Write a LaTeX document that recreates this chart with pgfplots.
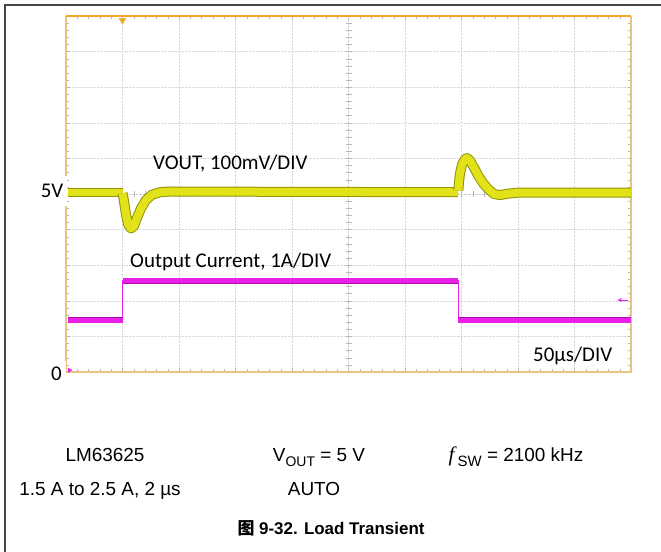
\documentclass[border=0pt]{standalone}
\usepackage{fontspec}
\setmainfont{Carlito}
\newfontfamily\arialf{Liberation Sans}
\newfontfamily\timesf{Liberation Serif}
\newfontfamily\cjk{Noto Sans CJK SC}
\usepackage{pgfplots}
\pgfplotsset{compat=1.18}
\definecolor{oliveE}{RGB}{145,145,10}
\definecolor{yel}{RGB}{226,226,24}
\definecolor{mag}{RGB}{232,32,232}
\definecolor{magd}{RGB}{175,10,175}
\definecolor{bordtop}{RGB}{245,166,45}
\definecolor{bord}{RGB}{234,195,130}
\begin{document}
\begin{tikzpicture}[x=1bp,y=1bp]
\path[use as bounding box] (0,0) rectangle (661,552);
\draw[gray!55!black, line width=1.2bp] (5,0) -- (5,547) -- (661,547);
\begin{axis}[at={(66bp,180bp)}, anchor=south west, scale only axis,
  width=565bp, height=356bp, xmin=0, xmax=500, ymin=0, ymax=10,
  axis line style={draw=none},
  xtick={0,50,...,500}, ytick={0,1,...,10},
  minor x tick num=4, minor y tick num=4,
  xticklabels={}, yticklabels={},
  grid=major, major grid style={densely dotted, gray!30},
  major tick length=3.5bp, minor tick length=3bp,
  tick style={gray!55, thin}, clip=false]
% center lines
\draw[gray!40, densely dotted] (axis cs:250,0) -- (axis cs:250,10);
\draw[gray!40, densely dotted] (axis cs:0,5) -- (axis cs:500,5);
\pgfplotsinvokeforeach{10,20,...,490}{\draw[gray!55, thin] ([yshift=-3bp]axis cs:#1,5) -- ([yshift=3bp]axis cs:#1,5);}
\pgfplotsinvokeforeach{0.2,0.4,...,9.9}{\draw[gray!55, thin] ([xshift=-3bp]axis cs:250,#1) -- ([xshift=3bp]axis cs:250,#1);}
% borders
\draw[bord, line width=2.4bp] (rel axis cs:0,0) -- (rel axis cs:1,0) -- (rel axis cs:1,1);
\draw[bord, line width=2.4bp] (rel axis cs:0,0) -- (rel axis cs:0,1);
\draw[bordtop, line width=2bp] (rel axis cs:0,1) -- (rel axis cs:1,1);
% VOUT trace (divisions, 100 mV/DIV)
\addplot[oliveE, line width=9bp] coordinates {(1.5,5.03) (50,5.03)};
\addplot[yel, line width=7bp] coordinates {(1.5,5.03) (50,5.03)};
\addplot[oliveE, line width=10bp, line join=round] coordinates {
(50,5.02) (50.5,4.95) (51.3,4.80) (53.1,4.42) (54.9,4.15) (57.5,4.03) (60.2,4.10)
(62.8,4.33) (66.4,4.60) (70.8,4.83) (76.1,4.98) (83.2,5.05) (92,5.07) (200,5.06) (346.9,5.05)};
\addplot[yel, line width=8bp, line join=round] coordinates {
(50,5.02) (50.5,4.95) (51.3,4.80) (53.1,4.42) (54.9,4.15) (57.5,4.03) (60.2,4.10)
(62.8,4.33) (66.4,4.60) (70.8,4.83) (76.1,4.98) (83.2,5.05) (92,5.07) (200,5.06) (346.9,5.05)};
\addplot[oliveE, line width=10bp, line join=round] coordinates {
(347.2,5.10) (347.8,5.35) (348.7,5.58) (350.5,5.83) (353.1,5.98) (354.9,6.01) (357.5,5.94)
(361.1,5.74) (364.6,5.53) (369,5.31) (373.5,5.14) (378.8,5.00) (384.1,4.97) (391.2,5.01)
(401.8,5.04) (500,5.04)};
\addplot[yel, line width=8bp, line join=round] coordinates {
(347.2,5.10) (347.8,5.35) (348.7,5.58) (350.5,5.83) (353.1,5.98) (354.9,6.01) (357.5,5.94)
(361.1,5.74) (364.6,5.53) (369,5.31) (373.5,5.14) (378.8,5.00) (384.1,4.97) (391.2,5.01)
(401.8,5.04) (500,5.04)};
% Output current trace (1 A/DIV)
\addplot[mag, line width=0.9bp] coordinates {(1.5,1.46) (50,1.46) (50,2.56) (347,2.56) (347,1.46) (500,1.46)};
\addplot[magd, line width=6.5bp] coordinates {(1.5,1.46) (50,1.46)};
\addplot[mag, line width=5bp] coordinates {(1.5,1.46) (50,1.46)};
\addplot[magd, line width=6.5bp] coordinates {(50.3,2.56) (347,2.56)};
\addplot[mag, line width=5bp] coordinates {(50.3,2.56) (347,2.56)};
\addplot[magd, line width=6.5bp] coordinates {(347.3,1.46) (500,1.46)};
\addplot[mag, line width=5bp] coordinates {(347.3,1.46) (500,1.46)};
% markers
\addplot[only marks, mark=triangle*, mark size=4bp, mark options={rotate=180, fill=bordtop, draw=bordtop}] coordinates {(50,9.88)};
\addplot[only marks, mark=triangle*, mark size=2.5bp, mark options={rotate=-90, fill=mag, draw=mag}] coordinates {(3,0.05)};
\addplot[mag, line width=1bp, -stealth] coordinates {(497,2.02) (488,2.02)};
\end{axis}
% scope annotations
\node[anchor=base west, inner sep=0, font=\fontsize{21}{21}\selectfont] at (153,382) {VOUT, 100mV/DIV};
\node[anchor=base west, inner sep=0, font=\fontsize{21}{21}\selectfont] at (130,284) {Output Current, 1A/DIV};
\node[anchor=base west, inner sep=0, font=\fontsize{21}{21}\selectfont] at (533,190) {50µs/DIV};
\node[anchor=east, fill=white, inner xsep=4bp, inner ysep=8bp, font=\fontsize{21}{21}\selectfont] at (67.5,361) {5V};
\node[anchor=east, fill=white, inner xsep=4bp, inner ysep=6bp, font=\fontsize{21}{21}\selectfont] at (66,178) {0};
% bottom text
\begin{scope}[every node/.style={anchor=base, inner sep=0, font=\arialf\fontsize{19}{19}\selectfont}]
\node at (105,90) {LM63625};
\node at (319,90) {V\raisebox{-0.25em}{\fontsize{14}{14}\selectfont OUT} = 5 V};
\node at (516,90) {{\timesf\itshape\fontsize{21}{21}\selectfont f}\,\raisebox{-0.25em}{\fontsize{15}{15}\selectfont SW} = 2100 kHz};
\node at (100,56) {1.5 A to 2.5 A, 2 µs};
\node at (314,56) {AUTO};
\node[font=\arialf\bfseries\fontsize{17}{17}\selectfont] at (331,17) {{\cjk\bfseries 图} 9-32. Load Transient};
\end{scope}
\end{tikzpicture}
\end{document}
